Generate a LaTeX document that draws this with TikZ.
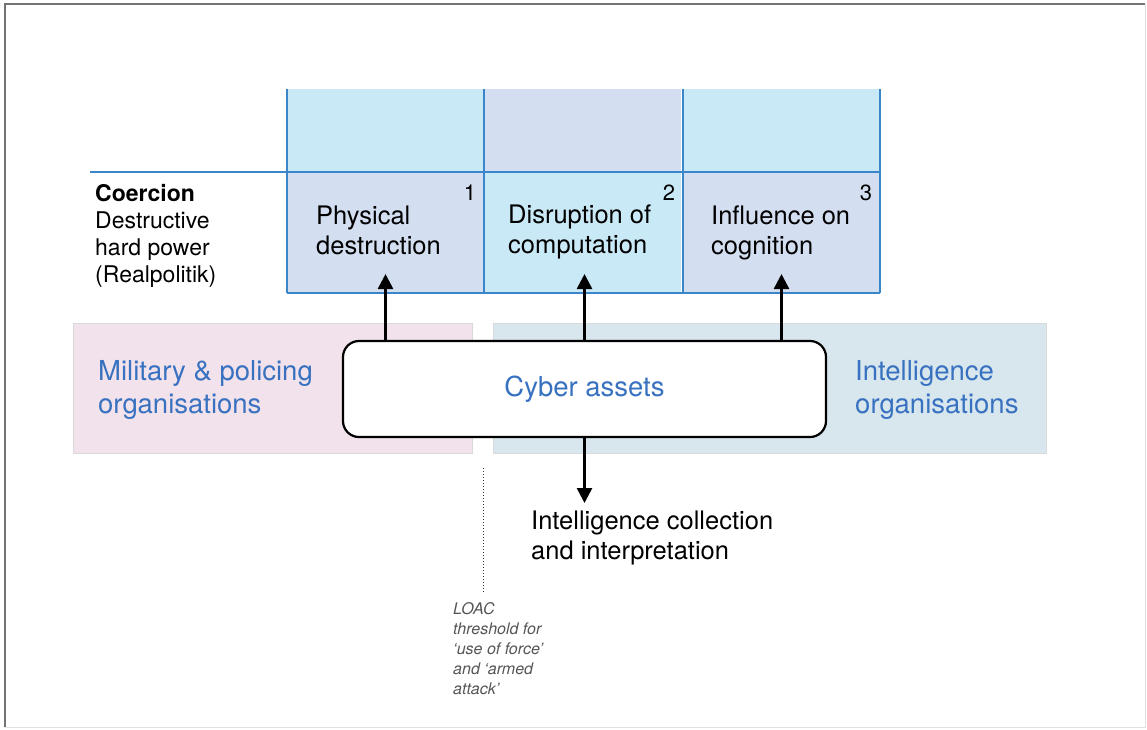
\documentclass[tikz,border=0pt]{standalone}
\usepackage{fontspec}
\setmainfont{TeX Gyre Heros}
\usetikzlibrary{arrows.meta}
\definecolor{gridblue}{HTML}{3A86C8}
\definecolor{cyanfill}{HTML}{C9E9F6}
\definecolor{lavfill}{HTML}{D3DFF0}
\definecolor{pinkfill}{HTML}{F2E2EC}
\definecolor{intfill}{HTML}{D8E6EE}
\definecolor{orgblue}{HTML}{3771C0}
\definecolor{notegray}{HTML}{555555}
\tikzset{
  cellbox/.style={inner sep=0pt, minimum width=197pt, minimum height=#1, anchor=north west},
  cellbox/.default=83pt,
  gridline/.style={draw=gridblue, line width=1.6pt},
  orgbox/.style={draw=black!15, line width=0.8pt, anchor=north west, inner sep=0pt},
  orgtext/.style={text=orgblue, font=\fontsize{27.5}{33}\selectfont, align=left, anchor=west, inner sep=0pt},
  celltext/.style={font=\fontsize{25.5}{30}\selectfont, align=left, anchor=west, inner sep=0pt},
  numtext/.style={font=\fontsize{22}{25}\selectfont, anchor=center, inner sep=0pt},
  arr/.style={line width=2.6pt, -{Triangle[width=15pt,length=15pt]}},
}
\begin{document}
\begin{tikzpicture}[x=1pt,y=-1pt]
\useasboundingbox (0,0) rectangle (1147,729);
% frame
\draw[black!12, line width=1pt] (1145,4) -- (1145,727) -- (5,727);
\draw[black!55, line width=1.6pt] (5,727) -- (5,4) -- (1145,4);

% grid cells
\node[cellbox, fill=cyanfill] (a1) at (287,89) {};
\node[cellbox, fill=lavfill]  (a2) at (484,89) {};
\node[cellbox, fill=cyanfill, minimum width=196pt] (a3) at (683,89) {};
\node[cellbox=121pt, fill=lavfill]  (b1) at (287,172) {};
\node[cellbox=121pt, fill=cyanfill] (b2) at (484,172) {};
\node[cellbox=121pt, fill=lavfill, minimum width=196pt] (b3) at (683,172) {};
% grid lines
\draw[gridline] (90,172) -- (880,172);
\draw[gridline] (287,293) -- (880,293);
\draw[gridline] (287,89) -- (287,293);
\draw[gridline] (484,89) -- (484,293);
\draw[gridline] (683,89) -- (683,293);
\draw[gridline] (880,89) -- (880,293);

% left label
\node[anchor=west, align=left, inner sep=0pt, font=\fontsize{23}{27}\selectfont] (coer) at (95,236)
  {\textbf{Coercion}\\Destructive\\hard power\\(Realpolitik)};

% cell texts
\node[celltext] (t1) at (316,230) {Physical\\destruction};
\node[celltext] (t2) at (508,232) {Disruption of\\computation};
\node[celltext] (t3) at (711,233) {Influence on\\cognition};
\node[numtext] (n1) at (470,193) {1};
\node[numtext] (n2) at (669,193) {2};
\node[numtext] (n3) at (866,193) {3};

% organisation boxes
\node[orgbox, fill=pinkfill, minimum width=399pt, minimum height=130pt] (mil) at (73,323) {};
\node[orgbox, fill=intfill, minimum width=553pt, minimum height=130pt] (intel) at (493,323) {};
\node[orgtext] (milt) at (98,390) {Military \& policing\\organisations};
\node[orgtext] (intt) at (855,390) {Intelligence\\organisations};

% cyber assets
\node[draw=black, line width=2.2pt, fill=white, rounded corners=16pt, minimum width=483pt, minimum height=96pt,
      text=orgblue, font=\fontsize{27.5}{33}\selectfont, inner sep=0pt] (cyber) at (584.5,389) {\raisebox{-2pt}{Cyber assets}};

% arrow targets
\coordinate (p1) at (385.5,274);
\coordinate (p2) at (584.5,274);
\coordinate (p3) at (781.5,274);
\coordinate (p4) at (584.5,503);
\draw[arr] (cyber.north -| p1) -- (p1);
\draw[arr] (cyber.north -| p2) -- (p2);
\draw[arr] (cyber.north -| p3) -- (p3);
\draw[arr] (cyber.south -| p4) -- (p4);

\node[celltext] (coll) at (531,538) {Intelligence collection\\and interpretation};

% LOAC threshold
\coordinate (d1) at (483.5,468);
\coordinate (d2) at (483.5,592);
\draw[black!80, line width=1pt, dotted] (d1) -- (d2);
\node[anchor=north west, align=left, inner sep=0pt, text=notegray,
      font=\itshape\fontsize{16}{20}\selectfont] (loac) at (453,602)
  {LOAC\\threshold for\\‘use of force’\\and ‘armed\\attack’};
\end{tikzpicture}
\end{document}
